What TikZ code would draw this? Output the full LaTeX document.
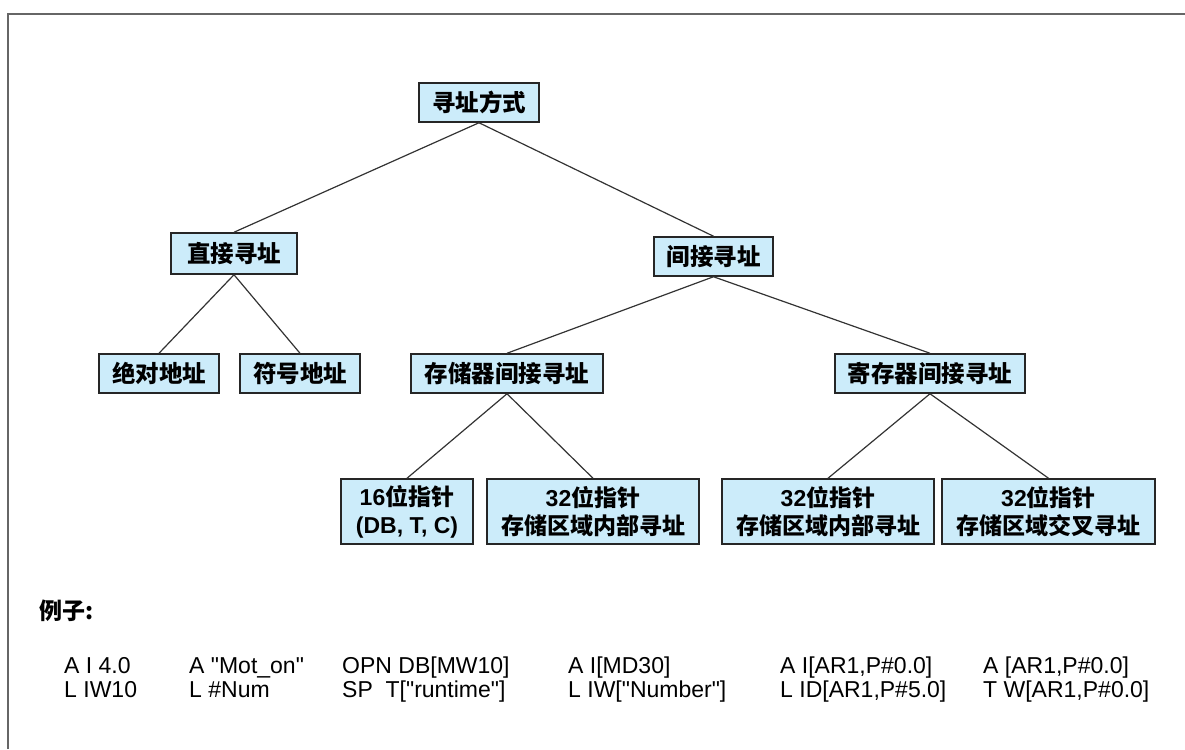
\documentclass[tikz,border=0pt]{standalone}
\usepackage{fontspec}
\setmainfont[Ligatures=TeXOff]{Liberation Sans}
\newfontfamily\cjk{Noto Sans CJK SC}
\usepackage{xcolor}
\usepackage{tikz}
\definecolor{boxblue}{RGB}{204,236,250}

\begin{document}
\begin{tikzpicture}[x=1pt,y=-1pt,
  addrbox/.style={draw=black!85,line width=1.5pt,fill=boxblue,inner sep=0pt,minimum height=39pt,font=\fontsize{23.5}{28}\selectfont\bfseries\cjk},
  ptrbox/.style={addrbox,minimum height=65pt,align=center,font=\fontsize{23}{28}\selectfont\bfseries},
  codeline/.style={anchor=base west,inner sep=0pt,font=\fontsize{23}{24}\selectfont}]
\useasboundingbox (0,0) rectangle (1185,749);
\draw[line width=2pt,black!60] (8,749) -- (8,14) -- (1185,14);
\node[addrbox,minimum width=120pt] (root) at (479,102.5) {寻址方式};
\node[addrbox,minimum width=126pt,minimum height=41pt] (direct) at (234,253.5) {直接寻址};
\node[addrbox,minimum width=119pt] (indirect) at (713.5,256.5) {间接寻址};
\node[addrbox,minimum width=120pt] (absaddr) at (159,373.5) {绝对地址};
\node[addrbox,minimum width=120pt] (symaddr) at (300,373.5) {符号地址};
\node[addrbox,minimum width=192pt] (memind) at (507,373.5) {存储器间接寻址};
\node[addrbox,minimum width=190pt] (regind) at (930,373.5) {寄存器间接寻址};
\node[ptrbox,minimum width=132pt] (ptrsixteen) at (407,511.5) {16{\cjk 位指针}\\(DB, T, C)};
\node[ptrbox,minimum width=212pt] (ptrarea) at (593,511.5) {32{\cjk 位指针}\\{\cjk 存储区域内部寻址}};
\node[ptrbox,minimum width=212pt] (ptrregarea) at (828,511.5) {32{\cjk 位指针}\\{\cjk 存储区域内部寻址}};
\node[ptrbox,minimum width=213pt] (ptrcross) at (1048.5,511.5) {32{\cjk 位指针}\\{\cjk 存储区域交叉寻址}};
\draw[line width=1.2pt,black!80] (root.south) -- (direct.north);
\draw[line width=1.2pt,black!80] (root.south) -- (indirect.north);
\draw[line width=1.2pt,black!80] (direct.south) -- (absaddr.north);
\draw[line width=1.2pt,black!80] (direct.south) -- (symaddr.north);
\draw[line width=1.2pt,black!80] (indirect.south) -- (memind.north);
\draw[line width=1.2pt,black!80] (indirect.south) -- (regind.north);
\draw[line width=1.2pt,black!80] (memind.south) -- (ptrsixteen.north);
\draw[line width=1.2pt,black!80] (memind.south) -- (ptrarea.north);
\draw[line width=1.2pt,black!80] (regind.south) -- (ptrregarea.north);
\draw[line width=1.2pt,black!80] (regind.south) -- (ptrcross.north);
\node[anchor=west,inner sep=0pt,font=\fontsize{23}{24}\selectfont\bfseries\cjk] (examples) at (39,611) {例子:};
\foreach \x/\a/\b in {64/{A I 4.0}/{L IW10}, 189/{A "Mot\_on"}/{L \#Num}, 342/{OPN DB[MW10]}/{SP~~T["runtime"]},
    568/{A I[MD30]}/{L IW["Number"]}, 780/{A I[AR1,P\#0.0]}/{L ID[AR1,P\#5.0]}, 983/{A [AR1,P\#0.0]}/{T W[AR1,P\#0.0]}}
{
    \node[codeline] at (\x,673) {\a};
    \node[codeline] at (\x,697) {\b};
}
\end{tikzpicture}
\end{document}
